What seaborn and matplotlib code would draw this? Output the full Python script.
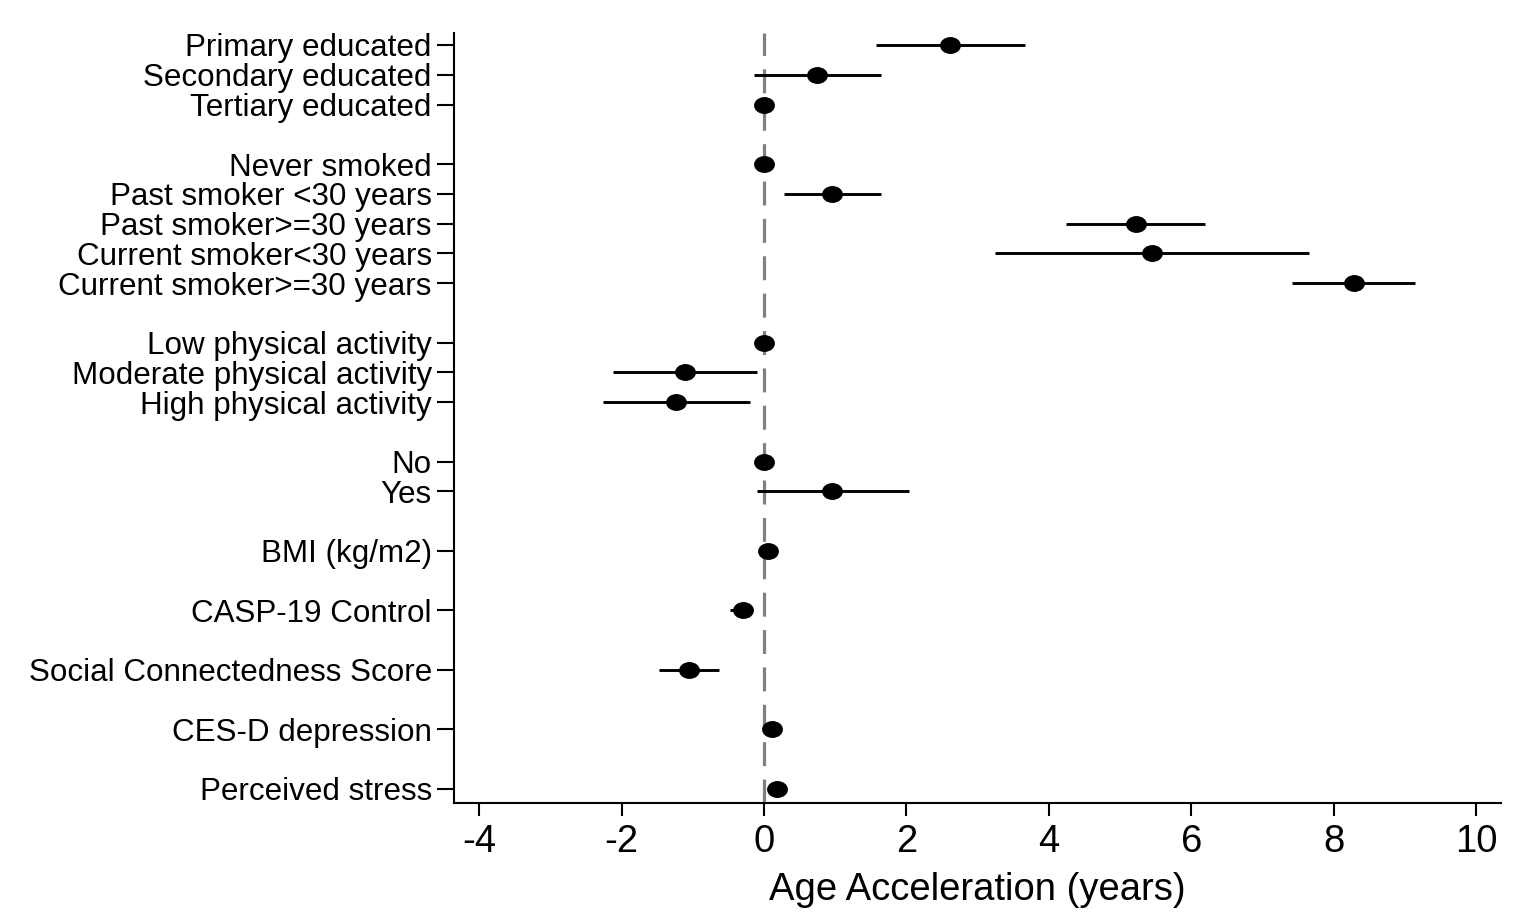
import numpy as np
import pandas as pd
import matplotlib
matplotlib.use("Agg")
import matplotlib.pyplot as plt
from matplotlib.path import Path
from matplotlib.transforms import Affine2D
import seaborn as sns

# Covariates, grouped as they appear from top to bottom
labels = [
    "Primary educated", "Secondary educated", "Tertiary educated",
    "Never smoked", "Past smoker <30 years", "Past smoker>=30 years",
    "Current smoker<30 years", "Current smoker>=30 years",
    "Low physical activity", "Moderate physical activity", "High physical activity",
    "No", "Yes",
    "BMI (kg/m2)",
    "CASP-19 Control",
    "Social Connectedness Score",
    "CES-D depression",
    "Perceived stress",
]
group_sizes = [3, 5, 3, 2, 1, 1, 1, 1, 1]

estimate = [2.61, 0.74, 0.0,
            0.0, 0.95, 5.22, 5.45, 8.28,
            0.0, -1.11, -1.23,
            0.0, 0.96,
            0.05,
            -0.30,
            -1.05,
            0.11,
            0.18]
ci_low = [1.58, -0.14, 0.0,
          0.0, 0.28, 4.24, 3.24, 7.41,
          0.0, -2.12, -2.26,
          0.0, -0.10,
          0.01,
          -0.48,
          -1.48,
          0.07,
          0.14]
ci_high = [3.67, 1.64, 0.0,
           0.0, 1.65, 6.20, 7.66, 9.15,
           0.0, -0.10, -0.19,
           0.0, 2.04,
           0.09,
           -0.15,
           -0.63,
           0.15,
           0.22]

xticks = [-4, -2, 0, 2, 4, 6, 8, 10]
xlabel = "Age Acceleration (years)"

# Row positions: one blank row between groups
positions = []
row = 0
for size in group_sizes:
    positions.extend(range(row, row + size))
    row += size + 1

df = pd.DataFrame({
    "label": labels,
    "pos": positions,
    "estimate": estimate,
    "lo": ci_low,
    "hi": ci_high,
})

sns.set_theme(style="white")
plt.rcParams["font.family"] = ["Liberation Sans", "DejaVu Sans"]
plt.rcParams["text.color"] = "black"
plt.rcParams["axes.labelcolor"] = "black"

fig = plt.figure(figsize=(15.38, 9.23), dpi=100)
ax = fig.add_axes([454 / 1538, 1 - 803 / 923, (1501 - 454) / 1538, (803 - 33) / 923])

# Reference line at zero
ax.axvline(0, color="#808080", lw=2.3, linestyle=(0, (7.5, 4.2)), zorder=1)

# Confidence intervals
ax.hlines(df["pos"], df["lo"], df["hi"], color="black", lw=2.1, zorder=2)

# Slightly wide elliptical dot for the estimates
circle = Path.unit_circle()
ellipse = circle.transformed(Affine2D().scale(1.0, 0.81))
sns.scatterplot(data=df, x="estimate", y="pos", ax=ax, marker=ellipse,
                s=15.0 ** 2, color="black", edgecolor="black", linewidth=0,
                zorder=3, legend=False)

x_per_px = 1 / 71.2
ax.set_xlim(-(764 - 454) * x_per_px, (1501 - 764) * x_per_px)
ax.set_ylim(max(positions) + (803 - 789) / 29.76, -(45 - 33) / 29.76)

ax.set_yticks(df["pos"])
ax.set_yticklabels(df["label"], fontsize=22.6)
ax.set_xticks(xticks)
ax.set_xticklabels([str(t) for t in xticks], fontsize=27.5)
ax.set_xlabel(xlabel, fontsize=27.5, labelpad=9, color="black")
ax.set_ylabel("")

for side in ("top", "right"):
    ax.spines[side].set_visible(False)
for side in ("left", "bottom"):
    ax.spines[side].set_color("black")
    ax.spines[side].set_linewidth(1.5)

ax.tick_params(axis="y", direction="out", length=12, width=1.5, pad=4,
               colors="black", left=True)
ax.tick_params(axis="x", direction="out", length=9, width=1.5, pad=6,
               colors="black", bottom=True)
ax.grid(False)

fig.savefig("out.png", dpi=100, facecolor="white")
